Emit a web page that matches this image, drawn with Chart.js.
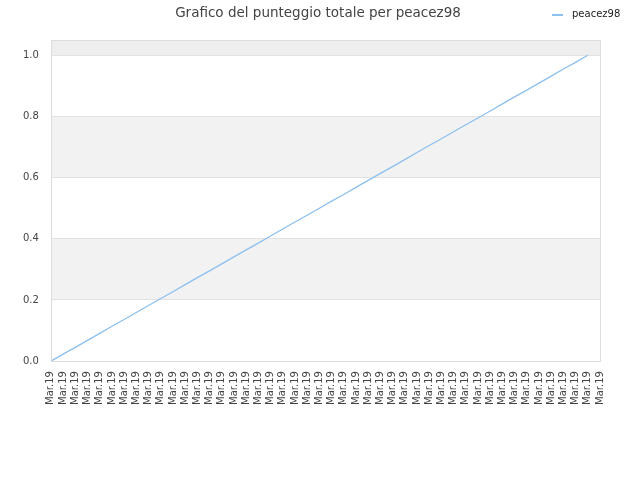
<!DOCTYPE html>
<html>
<head>
<meta charset="utf-8">
<script src="https://cdn.jsdelivr.net/npm/chart.js@4/dist/chart.umd.min.js"></script>
<style>
  html, body { margin: 0; padding: 0; background: #fff; }
  #wrap { width: 640px; height: 480px; }
</style>
</head>
<body>
<div id="wrap"><canvas id="scoreChart" width="640" height="480"></canvas></div>
<script>
// === Data ===
const titleText = 'Grafico del punteggio totale per peacez98';
const seriesName = 'peacez98';
const labels = [
  'Mar.19', 'Mar.19', 'Mar.19', 'Mar.19', 'Mar.19', 'Mar.19', 'Mar.19', 'Mar.19',
  'Mar.19', 'Mar.19', 'Mar.19', 'Mar.19', 'Mar.19', 'Mar.19', 'Mar.19', 'Mar.19',
  'Mar.19', 'Mar.19', 'Mar.19', 'Mar.19', 'Mar.19', 'Mar.19', 'Mar.19', 'Mar.19',
  'Mar.19', 'Mar.19', 'Mar.19', 'Mar.19', 'Mar.19', 'Mar.19', 'Mar.19', 'Mar.19',
  'Mar.19', 'Mar.19', 'Mar.19', 'Mar.19', 'Mar.19', 'Mar.19', 'Mar.19', 'Mar.19',
  'Mar.19', 'Mar.19', 'Mar.19', 'Mar.19', 'Mar.19', 'Mar.19'
];
// 0 at the first label, 1.0 at the second-to-last one
const scores = [
  0.000, 0.023, 0.045, 0.068, 0.091, 0.114, 0.136, 0.159, 0.182, 0.205,
  0.227, 0.250, 0.273, 0.295, 0.318, 0.341, 0.364, 0.386, 0.409, 0.432,
  0.455, 0.477, 0.500, 0.523, 0.545, 0.568, 0.591, 0.614, 0.636, 0.659,
  0.682, 0.705, 0.727, 0.750, 0.773, 0.795, 0.818, 0.841, 0.864, 0.886,
  0.909, 0.932, 0.955, 0.977, 1.000
];
const yTicks = [0, 0.2, 0.4, 0.6, 0.8, 1.0];
const yMax = 1.05;
const lineColor = '#8cc0f0';

// === Background bands, plot frame, title and legend ===
const decorPlugin = {
  id: 'decor',
  beforeDraw(chart) {
    const { ctx, chartArea: a, scales: { y } } = chart;
    ctx.save();
    // top strip above the last tick
    ctx.fillStyle = '#eeeeee';
    ctx.fillRect(a.left, a.top, a.right - a.left, y.getPixelForValue(1.0) - a.top);
    ctx.fillStyle = '#f2f2f2';
    for (let i = 0; i < yTicks.length - 1; i++) {
      if (i % 2 === 1) {
        const top = y.getPixelForValue(yTicks[i + 1]);
        const bot = y.getPixelForValue(yTicks[i]);
        ctx.fillRect(a.left, top, a.right - a.left, bot - top);
      }
    }
    ctx.restore();
  },
  afterDraw(chart) {
    const { ctx, chartArea: a } = chart;
    ctx.save();
    ctx.strokeStyle = '#dddddd';
    ctx.lineWidth = 1;
    ctx.strokeRect(Math.round(a.left) + 0.5, Math.round(a.top) + 0.5,
      Math.round(a.right - a.left), Math.round(a.bottom - a.top));
    // title
    ctx.fillStyle = '#444';
    ctx.font = '13.5px "DejaVu Sans"';
    ctx.textAlign = 'center';
    ctx.textBaseline = 'middle';
    ctx.fillText(titleText, 318, 13);
    // legend
    ctx.strokeStyle = lineColor;
    ctx.lineWidth = 2;
    ctx.beginPath();
    ctx.moveTo(552, 15);
    ctx.lineTo(563, 15);
    ctx.stroke();
    ctx.fillStyle = '#222';
    ctx.font = '10px "DejaVu Sans"';
    ctx.textAlign = 'left';
    ctx.fillText(seriesName, 572, 14);
    ctx.restore();
  }
};

// === Chart ===
const ctx = document.getElementById('scoreChart').getContext('2d');
const scoreChart = new Chart(ctx, {
  type: 'line',
  data: {
    labels: labels,
    datasets: [{
      label: seriesName,
      data: scores,
      borderColor: lineColor,
      backgroundColor: lineColor,
      borderWidth: 1.3,
      pointRadius: 0,
      fill: false,
      tension: 0
    }]
  },
  options: {
    responsive: false,
    animation: false,
    layout: { padding: { top: 40, left: 11, right: 40, bottom: 73 } },
    plugins: {
      title: { display: false },
      tooltip: { enabled: false },
      legend: { display: false }
    },
    scales: {
      x: {
        offset: false,
        grid: { display: false },
        border: { display: false },
        ticks: {
          autoSkip: false,
          maxRotation: 90,
          minRotation: 90,
          color: '#444',
          font: { family: 'DejaVu Sans', size: 10 },
          padding: 2
        }
      },
      y: {
        min: 0,
        max: yMax,
        grid: { color: '#e2e2e2', drawTicks: false },
        border: { display: false },
        ticks: {
          stepSize: 0.2,
          includeBounds: false,
          padding: 12,
          color: '#444',
          font: { family: 'DejaVu Sans', size: 10 },
          callback: v => v.toFixed(1)
        }
      }
    }
  },
  plugins: [decorPlugin]
});
</script>
</body>
</html>
